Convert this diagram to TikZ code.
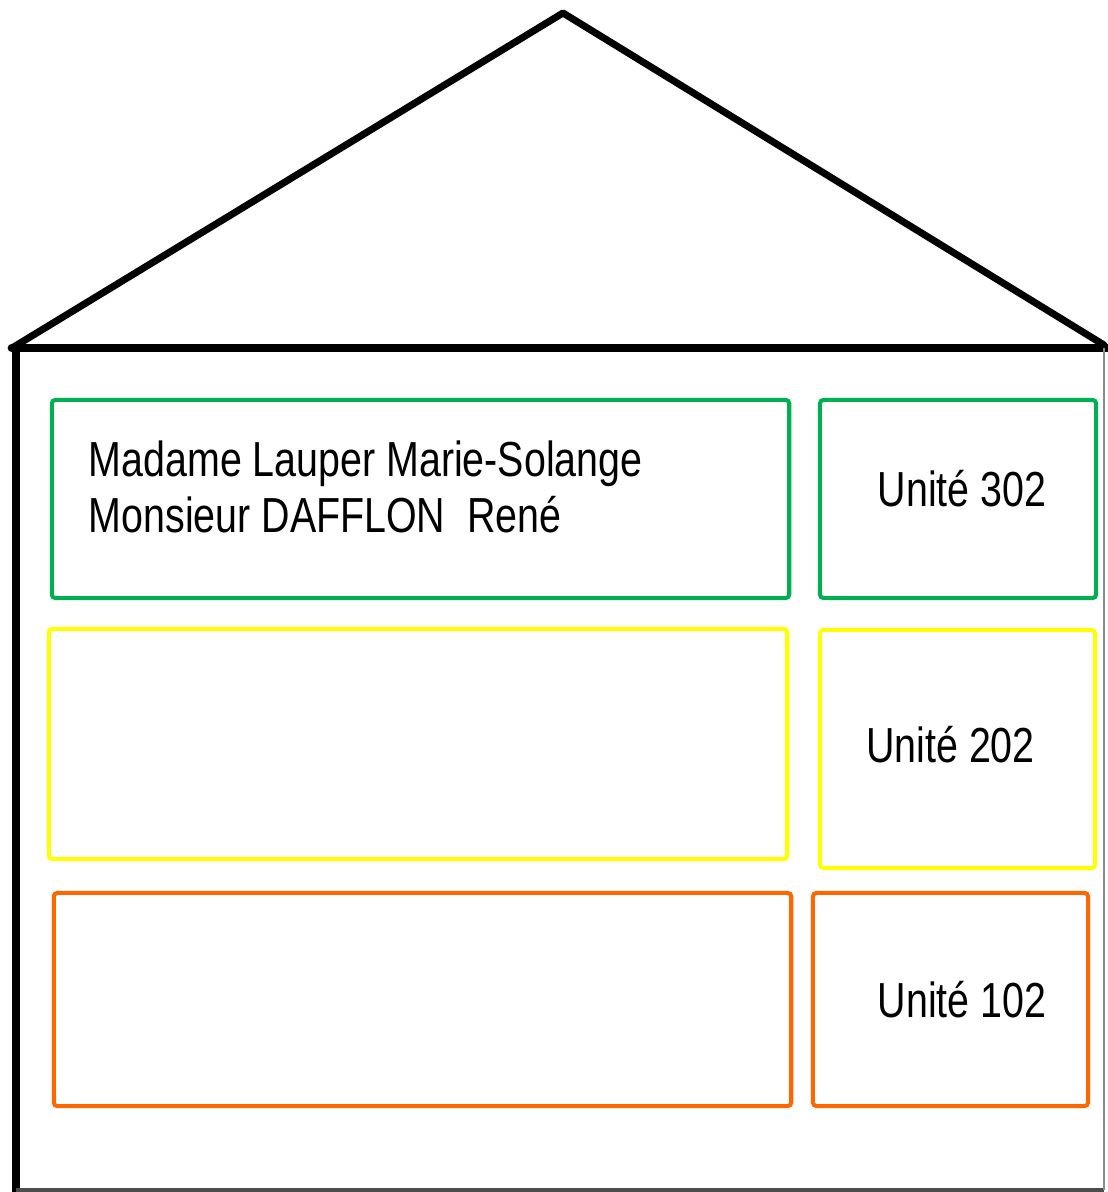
\documentclass[tikz,border=0pt]{standalone}
\usepackage{fontspec}
\setmainfont{Liberation Sans}
\newfontfamily\etroite[FakeStretch=0.8]{Liberation Sans}
\definecolor{vertp}{RGB}{0,176,80}
\definecolor{jaunep}{RGB}{255,255,0}
\definecolor{orangep}{RGB}{255,102,0}
\begin{document}
\begin{tikzpicture}
      [x=0.01cm,y=-0.01cm,
      roof line/.style={line width=2pt,line join=round,line cap=round},
      floor box/.style={draw,line width=1.15pt,rounded corners=1pt,inner sep=0pt},
      unit label/.style={font=\etroite\fontsize{14}{16}\selectfont,inner sep=0pt}]
      \useasboundingbox (0,0) rectangle (1107,1192);
      \coordinate (eaveL) at (12,348);
      \coordinate (ridge) at (563,13);
      \coordinate (eaveR) at (1104,345);
      \coordinate (wallL) at (16,348);
      \coordinate (wallR) at (1107,348);
      \coordinate (footL) at (16,1192);
      \coordinate (footR) at (1104,1190);
      \draw[roof line] (eaveL) -- (ridge) -- (eaveR);
      \draw[roof line,line width=2.5pt] (eaveL) -- (wallR);
      \draw[line width=2.2pt] (wallL) -- (footL);
      \draw[line width=1pt,black!70] (16,1190) -- (footR);
      \draw[line width=0.6pt,black!45] (1104,348) -- (footR);
      \node[floor box,draw=vertp,minimum width=7.37cm,minimum height=1.98cm] (f3) at (420.5,499) {};
      \node[floor box,draw=vertp,minimum width=2.76cm,minimum height=1.98cm] (u3) at (958,499) {};
      \node[floor box,draw=jaunep,minimum width=7.38cm,minimum height=2.30cm] (f2) at (418,744) {};
      \node[floor box,draw=jaunep,minimum width=2.75cm,minimum height=2.38cm] (u2) at (957.5,749) {};
      \node[floor box,draw=orangep,minimum width=7.37cm,minimum height=2.13cm] (f1) at (422.5,999.5) {};
      \node[floor box,draw=orangep,minimum width=2.75cm,minimum height=2.13cm] (u1) at (950.5,999.5) {};
      \node[unit label,align=left,anchor=north west] (habitants) at (88,440)
        {Madame Lauper Marie-Solange\\Monsieur DAFFLON\ \ René};
      \node[unit label,anchor=base] (l3) at (962,507) {Unité 302};
      \node[unit label,anchor=base] (l2) at (950.5,762) {Unité 202};
      \node[unit label,anchor=base] (l1) at (962,1017) {Unité 102};
    \end{tikzpicture}
\end{document}
